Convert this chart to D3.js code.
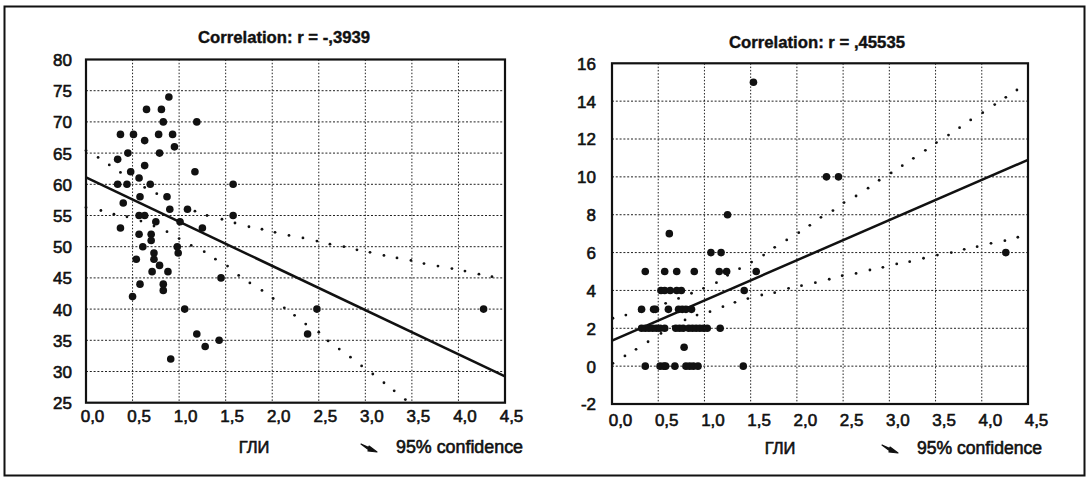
<!DOCTYPE html>
<html><head><meta charset="utf-8">
<script src="https://cdn.jsdelivr.net/npm/d3@7"></script>
<style>body{margin:0;background:#fff} svg{display:block}</style>
</head><body><svg id="c" width="1090" height="480"></svg>
<script>
// ---------- data ----------
const xTicks = [0, 0.5, 1, 1.5, 2, 2.5, 3, 3.5, 4, 4.5];
const xTickLabels = ["0,0","0,5","1,0","1,5","2,0","2,5","3,0","3,5","4,0","4,5"];
const leftYTicks = [25, 30, 35, 40, 45, 50, 55, 60, 65, 70, 75, 80];
const rightYTicks = [-2, 0, 2, 4, 6, 8, 10, 12, 14, 16];
const leftTitle = "Correlation: r = -,3939";
const rightTitle = "Correlation: r = ,45535";
const xAxisLabel = "ГЛИ";
const legendLabel = "95% confidence";

// left panel scatter
const leftX = [0.37,0.51,0.65,0.81,0.89,0.83,1.19,0.63,0.78,0.93,0.95,0.45,0.79,0.34,0.63,0.48,1.17,0.57,0.34,0.44,0.69,1.58,
               0.40,0.58,0.87,0.90,1.09,0.57,0.63,1.58,0.75,1.01,0.37,1.25,0.57,0.70,0.70,0.61,0.98,0.99,0.73,0.54,0.73,0.79,
               0.71,0.88,1.45,0.58,0.83,0.83,0.50,1.06,2.48,4.27,1.19,2.38,1.43,1.28,0.91];
const leftY = [68,68,72,72,74,70,70,67,68,68,66,65,65,64,63,62,62,61,60,60,60,60,
               57,58,58,56,56,55,55,55,54,54,53,53,52,52,51,50,50,49,49,48,48,47,
               46,46,45,44,44,43,42,40,40,40,36,36,35,34,32];
// left regression line and 95% confidence bands
const leftRegX = [0, 4.5];
const leftRegY = [61.1, 29.2];
const leftUpperX = [0.0,0.13,0.25,0.37,0.63,0.76,1.17,1.30,1.46,1.60,1.75,1.89,2.03,2.18,2.33,2.48,2.62,2.77,2.91,3.05,3.20,3.34,3.49,3.63,3.78,3.93,4.07,4.22,4.36];
const leftUpperY = [65.4,64.3,63.1,61.9,59.5,58.5,55.7,55.0,54.4,53.8,53.2,52.8,52.3,51.8,51.4,50.9,50.4,50.0,49.5,49.1,48.6,48.2,47.8,47.3,46.9,46.5,46.1,45.6,45.2];
const leftLowerX = [0.0,0.16,0.30,0.44,0.59,0.73,0.87,1.00,1.13,1.27,1.39,1.52,1.64,1.76,1.89,2.01,2.13,2.24,2.36,2.50,2.60,2.72,2.84,2.96,3.08,3.20,3.31,3.43];
const leftLowerY = [56.3,55.8,55.2,54.8,54.1,53.3,52.4,51.3,50.2,49.2,48.0,46.9,45.4,44.2,43.0,41.7,40.2,39.0,37.6,36.3,34.9,33.6,32.3,30.9,29.6,28.2,26.9,25.5];

// right panel scatter
const rightX = [1.53,2.32,2.45,1.25,0.62,1.07,1.18,4.26,
                0.36,0.57,0.70,0.89,1.16,1.24,1.56,
                0.53,0.57,0.63,0.70,0.75,1.43,
                0.32,0.45,0.47,0.61,0.72,0.76,0.80,0.86,
                0.32,0.36,0.40,0.44,0.48,0.52,0.57,0.69,0.73,0.77,0.83,0.87,0.91,0.95,0.99,1.03,1.17,
                0.78,
                0.36,0.52,0.56,0.58,0.68,0.80,0.84,0.88,0.93,1.42];
const rightY = [15,10,10,8,7,6,6,6,
                5,5,5,5,5,5,5,
                4,4,4,4,4,4,
                3,3,3,3,3,3,3,3,
                2,2,2,2,2,2,2,2,2,2,2,2,2,2,2,2,2,
                1,
                0,0,0,0,0,0,0,0,0,0];
const rightRegX = [0, 4.5];
const rightRegY = [1.35, 10.9];
const rightUpperX = [0.01,0.15,0.30,0.44,0.58,0.72,0.86,0.99,1.13,1.25,1.38,1.51,1.64,1.76,1.89,2.02,2.14,2.26,2.39,2.51,2.64,2.77,2.89,3.02,3.14,3.26,3.39,3.51,3.64,3.76,3.88,4.01,4.14,4.26,4.38];
const rightUpperY = [2.53,2.70,2.90,3.10,3.32,3.58,3.85,4.11,4.41,4.80,5.15,5.50,5.87,6.28,6.67,7.05,7.44,7.86,8.22,8.64,8.99,9.40,9.82,10.21,10.59,10.98,11.40,11.81,12.21,12.60,13.01,13.39,13.82,14.20,14.59];
const rightLowerX = [0.01,0.14,0.26,0.39,0.53,0.66,0.79,0.92,1.06,1.20,1.33,1.47,1.62,1.76,1.91,2.05,2.20,2.35,2.49,2.64,2.79,2.93,3.08,3.22,3.37,3.52,3.67,3.81,3.95,4.10,4.25,4.39];
const rightLowerY = [0.15,0.54,0.89,1.29,1.73,2.09,2.44,2.70,2.88,3.14,3.37,3.57,3.76,3.88,4.11,4.25,4.41,4.59,4.78,4.90,5.08,5.22,5.40,5.52,5.70,5.87,6.00,6.17,6.31,6.49,6.63,6.81];

// ---------- drawing ----------
const svg = d3.select("#c");
const FONT = "'Liberation Sans', Arial, sans-serif";
const INK = "#111";

svg.append("rect").attr("x", 4.5).attr("y", 6.5).attr("width", 1080).attr("height", 469)
  .attr("fill", "none").attr("stroke", INK).attr("stroke-width", 2);

function panel(cfg) {
  const x = d3.scaleLinear().domain([0, 4.5]).range([cfg.left, cfg.right]);
  const y = d3.scaleLinear().domain(cfg.yDomain).range([cfg.bottom, cfg.top]);
  const g = svg.append("g");

  // grid
  g.append("g").selectAll("line").data(xTicks.slice(1, -1)).join("line")
    .attr("x1", d => x(d)).attr("x2", d => x(d)).attr("y1", cfg.top).attr("y2", cfg.bottom)
    .attr("stroke", "#222").attr("stroke-width", 1).attr("stroke-dasharray", "1.5,1.8");
  g.append("g").selectAll("line").data(cfg.yTicks.slice(1, -1)).join("line")
    .attr("y1", d => y(d)).attr("y2", d => y(d)).attr("x1", cfg.left).attr("x2", cfg.right)
    .attr("stroke", "#222").attr("stroke-width", 1).attr("stroke-dasharray", "2,1.8");

  // frame
  g.append("rect").attr("x", cfg.left).attr("y", cfg.top)
    .attr("width", cfg.right - cfg.left).attr("height", cfg.bottom - cfg.top)
    .attr("fill", "none").attr("stroke", INK).attr("stroke-width", 2.2);

  // tick labels via d3 axes (domain and tick marks hidden)
  const xAxis = d3.axisBottom(x).tickValues(xTicks).tickFormat((d, i) => xTickLabels[i]).tickSize(0).tickPadding(0);
  const xa = g.append("g").attr("transform", `translate(${cfg.xLabelDx},${cfg.xLabelY})`).call(xAxis);
  xa.select(".domain").remove();
  xa.selectAll("text").attr("font-family", FONT).attr("font-size", 17).attr("fill", INK)
    .attr("stroke", INK).attr("stroke-width", 0.6).attr("dy", "0.35em");

  const yAxis = d3.axisLeft(y).tickValues(cfg.yTicks).tickFormat(d => d < 0 ? "-" + Math.abs(d) : d).tickSize(0).tickPadding(0);
  const ya = g.append("g").attr("transform", `translate(${cfg.yLabelX},0)`).call(yAxis);
  ya.select(".domain").remove();
  ya.selectAll("text").attr("font-family", FONT).attr("font-size", 17).attr("fill", INK)
    .attr("stroke", INK).attr("stroke-width", 0.6).attr("dy", "0.35em");

  // confidence band dots
  const bandG = g.append("g");
  [[cfg.upX, cfg.upY], [cfg.loX, cfg.loY]].forEach(([bx, by]) => {
    bandG.selectAll(null).data(bx.map((v, i) => [v, by[i]])).join("circle")
      .attr("cx", d => x(d[0])).attr("cy", d => y(d[1])).attr("r", 1.4).attr("fill", INK);
  });

  // regression line
  g.append("path").datum(cfg.regX.map((v, i) => [v, cfg.regY[i]]))
    .attr("d", d3.line().x(d => x(d[0])).y(d => y(d[1])))
    .attr("stroke", INK).attr("stroke-width", 2.5).attr("fill", "none");

  // points
  g.append("g").selectAll("circle").data(cfg.px.map((v, i) => [v, cfg.py[i]])).join("circle")
    .attr("cx", d => x(d[0])).attr("cy", d => y(d[1])).attr("r", 3.8).attr("fill", INK);

  // title
  g.append("text").attr("x", cfg.titleX).attr("y", cfg.titleY).attr("text-anchor", "middle")
    .attr("dy", "0.35em").attr("font-family", FONT).attr("font-weight", "bold").attr("font-size", 17)
    .attr("stroke", INK).attr("stroke-width", 0.4)
    .attr("textLength", cfg.titleW).attr("lengthAdjust", "spacingAndGlyphs").attr("fill", INK)
    .text(cfg.title);

  // x axis label
  g.append("text").attr("x", cfg.xTitleX).attr("y", cfg.bottomTextY).attr("text-anchor", "middle")
    .attr("dy", "0.35em").attr("font-family", FONT).attr("font-size", 16.5).attr("fill", INK)
    .attr("stroke", INK).attr("stroke-width", 0.6).text(xAxisLabel);

  // legend
  const lx = cfg.legendX, ly = cfg.bottomTextY;
  g.append("path")
    .attr("d", `M${lx},${ly - 3} L${lx + 9},${ly + 1} L${lx + 8},${ly + 3} Z M${lx + 8},${ly - 1} L${lx + 16},${ly + 5} L${lx + 7},${ly + 4} Z`)
    .attr("fill", INK).attr("stroke", INK).attr("stroke-width", 1.2).attr("stroke-linejoin", "round");
  g.append("text").attr("x", cfg.legendTextX).attr("y", ly).attr("dy", "0.35em")
    .attr("font-family", FONT).attr("font-size", 17.5).attr("fill", INK)
    .attr("stroke", INK).attr("stroke-width", 0.6)
    .attr("textLength", cfg.legendW).attr("lengthAdjust", "spacingAndGlyphs").text(legendLabel);
}

panel({
  left: 86, right: 505, top: 59.5, bottom: 402.7, yDomain: [25, 80], yTicks: leftYTicks,
  xLabelDx: 6, xLabelY: 416, yLabelX: 72,
  px: leftX, py: leftY, regX: leftRegX, regY: leftRegY,
  upX: leftUpperX, upY: leftUpperY, loX: leftLowerX, loY: leftLowerY,
  title: leftTitle, titleX: 284, titleY: 37, titleW: 172,
  xTitleX: 254, bottomTextY: 447, legendX: 361, legendTextX: 396, legendW: 127
});
panel({
  left: 612, right: 1028, top: 63.3, bottom: 404, yDomain: [-2, 16], yTicks: rightYTicks,
  xLabelDx: 8, xLabelY: 420, yLabelX: 596,
  px: rightX, py: rightY, regX: rightRegX, regY: rightRegY,
  upX: rightUpperX, upY: rightUpperY, loX: rightLowerX, loY: rightLowerY,
  title: rightTitle, titleX: 817, titleY: 42, titleW: 176,
  xTitleX: 780, bottomTextY: 448, legendX: 882, legendTextX: 917, legendW: 125
});
</script></body></html>
